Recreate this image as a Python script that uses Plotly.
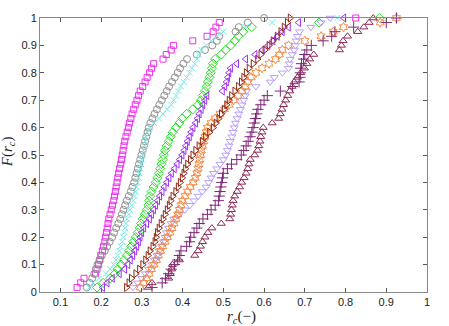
import plotly.graph_objects as go

# sorted r_c samples, one list per series (ECDF)
r_magenta = [0.141, 0.150, 0.158, 0.186, 0.190, 0.194, 0.197, 0.199, 0.203, 0.206,
             0.209, 0.211, 0.213, 0.215, 0.217, 0.219, 0.222, 0.225, 0.228, 0.231,
             0.233, 0.235, 0.237, 0.239, 0.241, 0.243, 0.245, 0.248, 0.250, 0.252,
             0.254, 0.256, 0.258, 0.261, 0.264, 0.267, 0.270, 0.273, 0.276, 0.280,
             0.284, 0.288, 0.292, 0.296, 0.302, 0.308, 0.313, 0.319, 0.324, 0.329,
             0.352, 0.360, 0.372, 0.378, 0.425, 0.460, 0.475, 0.482, 0.490, 0.825]
r_gray = [0.165, 0.172, 0.178, 0.183, 0.187, 0.191, 0.196, 0.202, 0.209, 0.215,
          0.221, 0.227, 0.232, 0.237, 0.242, 0.247, 0.251, 0.255, 0.259, 0.263,
          0.268, 0.273, 0.277, 0.281, 0.284, 0.287, 0.290, 0.293, 0.296, 0.299,
          0.302, 0.305, 0.308, 0.311, 0.314, 0.317, 0.321, 0.326, 0.331, 0.337,
          0.343, 0.349, 0.355, 0.361, 0.367, 0.374, 0.381, 0.388, 0.394, 0.402,
          0.411, 0.435, 0.455, 0.473, 0.484, 0.490, 0.530, 0.538, 0.560, 0.600]
r_cyan = [0.172, 0.180, 0.195, 0.212, 0.222, 0.231, 0.237, 0.241, 0.245, 0.248,
          0.252, 0.255, 0.257, 0.259, 0.261, 0.264, 0.268, 0.271, 0.275, 0.279,
          0.282, 0.285, 0.287, 0.290, 0.292, 0.294, 0.296, 0.298, 0.300, 0.302,
          0.304, 0.306, 0.308, 0.310, 0.313, 0.320, 0.330, 0.342, 0.352, 0.362,
          0.372, 0.378, 0.384, 0.390, 0.396, 0.403, 0.410, 0.417, 0.423, 0.430,
          0.435, 0.440, 0.446, 0.458, 0.470, 0.485, 0.500, 0.555, 0.620, 0.780]
r_green = [0.190, 0.205, 0.222, 0.234, 0.241, 0.249, 0.256, 0.263, 0.269, 0.274,
           0.279, 0.285, 0.290, 0.295, 0.298, 0.302, 0.307, 0.312, 0.316, 0.318,
           0.320, 0.324, 0.329, 0.334, 0.338, 0.342, 0.345, 0.348, 0.351, 0.354,
           0.357, 0.361, 0.366, 0.371, 0.376, 0.384, 0.392, 0.399, 0.410, 0.425,
           0.438, 0.445, 0.450, 0.455, 0.459, 0.462, 0.466, 0.469, 0.472, 0.475,
           0.480, 0.495, 0.506, 0.518, 0.528, 0.537, 0.549, 0.570, 0.735, 0.884]
r_purple = [0.204, 0.215, 0.228, 0.245, 0.258, 0.266, 0.272, 0.278, 0.283, 0.288,
            0.292, 0.296, 0.300, 0.305, 0.312, 0.319, 0.324, 0.329, 0.334, 0.339,
            0.344, 0.350, 0.355, 0.361, 0.367, 0.373, 0.380, 0.387, 0.393, 0.399,
            0.404, 0.408, 0.412, 0.417, 0.421, 0.426, 0.432, 0.437, 0.441, 0.446,
            0.450, 0.455, 0.460, 0.498, 0.504, 0.508, 0.511, 0.514, 0.518, 0.533,
            0.555, 0.578, 0.596, 0.610, 0.622, 0.633, 0.645, 0.660, 0.685, 0.796]
r_lavender = [0.278, 0.290, 0.300, 0.309, 0.317, 0.325, 0.331, 0.337, 0.342, 0.348,
              0.353, 0.357, 0.361, 0.366, 0.372, 0.378, 0.392, 0.406, 0.418, 0.428,
              0.438, 0.448, 0.458, 0.464, 0.470, 0.476, 0.484, 0.492, 0.500, 0.506,
              0.510, 0.514, 0.517, 0.521, 0.524, 0.527, 0.530, 0.534, 0.538, 0.542,
              0.546, 0.550, 0.554, 0.557, 0.580, 0.615, 0.625, 0.645, 0.660, 0.662,
              0.664, 0.669, 0.674, 0.677, 0.679, 0.682, 0.687, 0.715, 0.740, 0.762]
r_orange = [0.296, 0.304, 0.312, 0.318, 0.324, 0.330, 0.336, 0.341, 0.346, 0.351,
            0.357, 0.363, 0.369, 0.374, 0.379, 0.384, 0.388, 0.392, 0.396, 0.400,
            0.406, 0.412, 0.419, 0.426, 0.431, 0.435, 0.438, 0.440, 0.442, 0.444,
            0.446, 0.449, 0.452, 0.455, 0.458, 0.461, 0.470, 0.480, 0.492, 0.503,
            0.514, 0.525, 0.536, 0.546, 0.554, 0.560, 0.568, 0.580, 0.595, 0.612,
            0.628, 0.638, 0.645, 0.660, 0.700, 0.740, 0.770, 0.795, 0.885, 0.925]
r_brown = [0.262, 0.268, 0.274, 0.285, 0.294, 0.302, 0.309, 0.315, 0.320, 0.327,
           0.332, 0.335, 0.338, 0.342, 0.347, 0.352, 0.357, 0.362, 0.367, 0.371,
           0.376, 0.383, 0.389, 0.394, 0.399, 0.403, 0.407, 0.412, 0.419, 0.425,
           0.432, 0.440, 0.448, 0.456, 0.466, 0.475, 0.482, 0.489, 0.495, 0.502,
           0.508, 0.514, 0.520, 0.528, 0.537, 0.544, 0.550, 0.556, 0.563, 0.573,
           0.584, 0.592, 0.602, 0.612, 0.622, 0.632, 0.641, 0.649, 0.657, 0.664]
r_plus = [0.325, 0.350, 0.358, 0.366, 0.372, 0.380, 0.388, 0.392, 0.396, 0.410,
          0.417, 0.420, 0.428, 0.435, 0.441, 0.450, 0.461, 0.470, 0.480, 0.488,
          0.490, 0.492, 0.494, 0.496, 0.498, 0.500, 0.510, 0.520, 0.533, 0.544,
          0.550, 0.556, 0.561, 0.566, 0.570, 0.573, 0.576, 0.579, 0.582, 0.585,
          0.592, 0.600, 0.608, 0.640, 0.670, 0.686, 0.688, 0.689, 0.690, 0.692,
          0.697, 0.700, 0.705, 0.716, 0.745, 0.766, 0.774, 0.820, 0.900, 0.925]
r_maroon = [0.316, 0.325, 0.366, 0.370, 0.373, 0.375, 0.392, 0.430, 0.438, 0.444,
            0.449, 0.455, 0.462, 0.472, 0.495, 0.516, 0.518, 0.520, 0.522, 0.524,
            0.528, 0.534, 0.540, 0.545, 0.551, 0.556, 0.560, 0.563, 0.566, 0.577,
            0.584, 0.587, 0.590, 0.592, 0.595, 0.598, 0.620, 0.636, 0.640, 0.644,
            0.648, 0.653, 0.658, 0.663, 0.669, 0.674, 0.682, 0.690, 0.699, 0.705,
            0.712, 0.722, 0.785, 0.790, 0.794, 0.805, 0.830, 0.845, 0.858, 0.868]

x_ticks = [0.1, 0.2, 0.3, 0.4, 0.5, 0.6, 0.7, 0.8, 0.9, 1.0]
x_ticklabels = ['0.1', '0.2', '0.3', '0.4', '0.5', '0.6', '0.7', '0.8', '0.9', '1']
y_ticks = [0, 0.1, 0.2, 0.3, 0.4, 0.5, 0.6, 0.7, 0.8, 0.9, 1.0]
y_ticklabels = ['0', '0.1', '0.2', '0.3', '0.4', '0.5', '0.6', '0.7', '0.8', '0.9', '1']

series = [
    (r_magenta, 'square-open', '#EE30EE', 6),
    (r_gray, 'circle-open', '#909090', 7),
    (r_cyan, 'x-thin-open', '#78E6E6', 6),
    (r_green, 'diamond-open', '#22E022', 7),
    (r_purple, 'triangle-left-open', '#A030F0', 7),
    (r_lavender, 'triangle-down-open', '#B8A0F5', 7),
    (r_orange, 'hexagram-open', '#F58A45', 7),
    (r_brown, 'triangle-right-open', '#902A18', 7),
    (r_plus, 'cross-thin-open', '#802878', 8),
    (r_maroon, 'triangle-up-open', '#8E2A58', 7),
]

fig = go.Figure()
for r, sym, col, sz in series:
    n = len(r)
    F = [(i + 1) / n for i in range(n)]  # empirical CDF
    fig.add_trace(go.Scatter(x=r, y=F, mode='markers', cliponaxis=False,
                             marker=dict(symbol=sym, size=sz, color=col,
                                         line=dict(color=col, width=1)),
                             showlegend=False))

axis_style = dict(showline=True, linecolor='#8a8a8a', linewidth=1, mirror='ticks',
                  ticks='inside', ticklen=4, tickcolor='#555555', showgrid=False,
                  zeroline=False, tickfont=dict(family='Liberation Sans', size=11, color='#222222'))

fig.update_xaxes(range=[0.05, 1.0], tickvals=x_ticks, ticktext=x_ticklabels, **axis_style)
fig.update_yaxes(range=[0, 1.0], tickvals=y_ticks, ticktext=y_ticklabels, **axis_style)

# axis titles as annotations so they sit where the reference has them
fig.add_annotation(text='<i>r<sub>c</sub></i>(−)', xref='paper', yref='paper',
                   x=0.52, y=0, xanchor='center', yanchor='top', yshift=-14,
                   showarrow=False, font=dict(family='Liberation Serif', size=15, color='#222222'))
fig.add_annotation(text='<i>F</i>(<i>r<sub>c</sub></i>)', xref='paper', yref='paper',
                   x=0, y=0.51, xanchor='right', yanchor='middle', xshift=-21, textangle=-90,
                   showarrow=False, font=dict(family='Liberation Serif', size=15, color='#222222'))

fig.update_layout(width=449, height=326, plot_bgcolor='white', paper_bgcolor='white',
                  margin=dict(l=40, r=22, t=13, b=34))

# drop the default page margin so the figure starts at the window corner
fig.write_html("out.html", config={'displayModeBar': False},
               post_script="document.body.style.margin='0px';")
